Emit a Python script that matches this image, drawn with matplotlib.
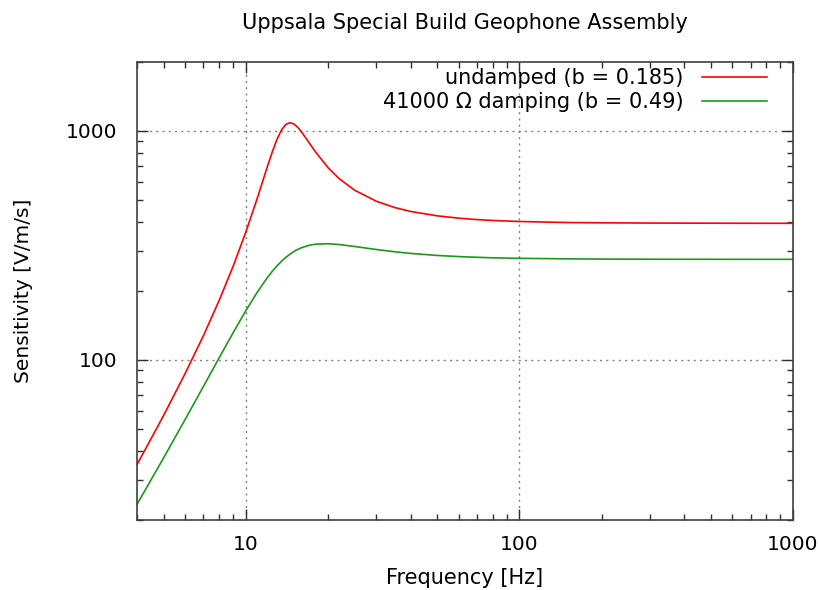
import matplotlib
matplotlib.use('Agg')
import matplotlib.pyplot as plt
from matplotlib.ticker import LogLocator, NullFormatter, FixedLocator

freq = [4, 5, 6, 7, 8, 9, 10, 11, 12, 12.5, 13, 13.5, 14, 14.5, 15, 15.5, 16, 17,
        18, 20, 22, 25, 30, 35, 40, 50, 60, 70, 80, 100, 150, 200, 300, 500,
        700, 1000]

# sensitivity [V/m/s], undamped geophone (b = 0.185)
undamped = [34.9, 57.1, 87.3, 127.8, 182.7, 257.9, 362, 507, 702, 812, 920, 1010,
            1068, 1086, 1072, 1035, 988, 891, 808, 690, 617, 551, 493, 463, 445,
            426, 416, 410, 406.5, 402.3, 398.2, 397, 396, 395.5, 395.2, 395]

# sensitivity [V/m/s], 41000 ohm shunt (b = 0.49)
damped = [23.4, 37.3, 55.0, 76.7, 102.5, 132.0, 164.2, 197.4, 229.4, 244.1, 257.6,
          269.8, 280.6, 289.5, 297.7, 304.2, 309.3, 316.5, 320.3, 321.7, 319.0,
          312.9, 303.5, 296.7, 291.9, 286.0, 282.7, 280.7, 279.2, 277.8, 276.3,
          275.7, 275.3, 275.1, 275.0, 275.0]

labels = ['undamped (b = 0.185)', '41000 \u03a9 damping (b = 0.49)']

plt.rcParams['font.family'] = 'DejaVu Sans'

fig = plt.figure(figsize=(8.18, 5.90), dpi=100)
ax = fig.add_axes([137 / 818, 1 - 520 / 590, (793 - 137) / 818, (520 - 62) / 590])

ax.plot(freq, undamped, color='#ff0000', lw=1.2, label=labels[0])
ax.plot(freq, damped, color='#1a9a1a', lw=1.2, label=labels[1])

ax.set_xscale('log')
ax.set_yscale('log')
ax.set_xlim(4, 1000)
ax.set_ylim(20, 2000)

ax.xaxis.set_major_locator(FixedLocator([10, 100, 1000]))
ax.yaxis.set_major_locator(FixedLocator([100, 1000]))
ax.set_xticklabels(['10', '100', '1000'])
ax.set_yticklabels(['100', '1000'])
for axis in (ax.xaxis, ax.yaxis):
    axis.set_minor_locator(LogLocator(base=10, subs=range(2, 10)))
    axis.set_minor_formatter(NullFormatter())

ax.tick_params(which='both', direction='in', top=True, right=True,
               color='#303030', width=1.0)
ax.tick_params(which='major', length=8, labelsize=14.5)
ax.tick_params(which='minor', length=4)
ax.tick_params(axis='x', which='major', pad=11)
ax.tick_params(axis='y', which='major', pad=14)

ax.grid(True, which='major', color='#808080', linestyle=(0, (1.5, 3)), lw=1.0)
for sp in ax.spines.values():
    sp.set_color('#404040')
    sp.set_linewidth(1.2)

ax.set_xlabel('Frequency [Hz]', fontsize=15, labelpad=10)
ax.set_ylabel('Sensitivity [V/m/s]', fontsize=14.5, labelpad=24)
ax.set_title('Uppsala Special Build Geophone Assembly', fontsize=15, pad=24)

ax.legend(loc='upper right', frameon=False, markerfirst=False, fontsize=15,
          handlelength=3.1, handletextpad=0.9, labelspacing=0.2,
          borderaxespad=0.0, bbox_to_anchor=(1 - 18 / 656, 1 + 2 / 458))

fig.savefig('out.png', dpi=100)
